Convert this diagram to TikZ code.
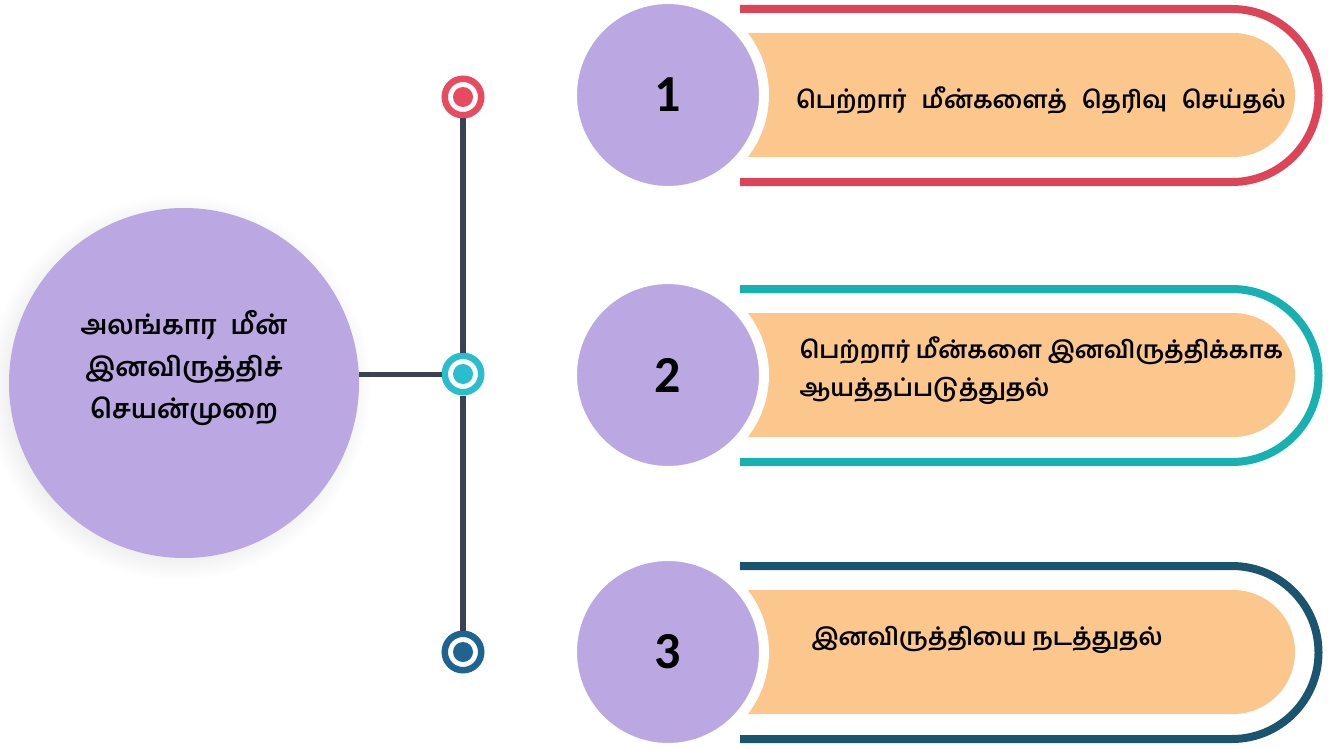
\documentclass[tikz,border=0pt]{standalone}
\usepackage{fontspec}
\setmainfont{Carlito}
\newfontfamily\tamil[Script=Tamil]{Hind Madurai}
\usetikzlibrary{shadows}
\definecolor{lilac}{RGB}{187,168,226}
\definecolor{peach}{RGB}{251,199,140}
\definecolor{rose}{RGB}{222,68,88}
\definecolor{lagoon}{RGB}{24,177,178}
\definecolor{marine}{RGB}{27,84,110}
\definecolor{dotred}{RGB}{232,74,95}
\definecolor{dotcyan}{RGB}{41,190,206}
\definecolor{dotblue}{RGB}{31,99,145}
\definecolor{stem}{RGB}{61,66,82}

\begin{document}
\begin{tikzpicture}[x=1pt,y=-1pt,
  stepnum/.style={circle,fill=lilac,draw=white,line width=10pt,minimum size=192pt,inner sep=0pt,
    font=\bfseries\fontsize{52}{52}\selectfont},
  marker/.style={circle,fill=white,draw=#1,line width=6.5pt,minimum size=36.5pt,inner sep=0pt,
    path picture={\fill[#1] (path picture bounding box.center) circle (10pt);}},
  steptext/.style={font=\tamil\bfseries\fontsize{24}{38}\selectfont,align=left},
  bar/.style={fill=peach},
  rim/.style={line width=8pt}]
\useasboundingbox (0,0) rectangle (1344,749);

% main circle and the stem
\node[circle,fill=lilac,minimum size=350pt,inner sep=0pt,
  circular drop shadow={shadow xshift=-5pt,shadow yshift=-4pt,opacity=.15}] (main) at (184,383) {};
\node[font=\tamil\bfseries\fontsize{26.5}{42}\selectfont,align=center] (title) at (184,368)
  {அலங்கார\hspace{14pt}மீன்\\இனவிருத்திச்\\செயன்முறை};
\node[marker=dotred] (d1) at (463,97) {};
\node[marker=dotcyan] (d2) at (463,374) {};
\node[marker=dotblue] (d3) at (463,652) {};
\draw[stem,line width=5.5pt] (d1) -- (d2);
\draw[stem,line width=5.5pt] (d2) -- (d3);
\draw[stem,line width=5pt] (main.east |- d2) -- (d2);

% step 1
\fill[bar] (740,33) -- (1233,33) arc[start angle=-90,end angle=90,radius=62] -- (740,157) -- cycle;
\draw[rim,rose] (740,9) -- (1232,9) arc[start angle=-90,end angle=90,radius=86.5] -- (740,182);
\node[stepnum] (s1) at (668,95) {1};
\node[steptext] (t1) at (1041,100) {\spaceskip=15pt பெற்றார் மீன்களைத் தெரிவு செய்தல்};

% step 2
\fill[bar] (740,313) -- (1233,313) arc[start angle=-90,end angle=90,radius=62] -- (740,437) -- cycle;
\draw[rim,lagoon] (740,289) -- (1232,289) arc[start angle=-90,end angle=90,radius=86.5] -- (740,462);
\node[stepnum] (s2) at (668,375) {2};
\node[steptext,anchor=west] (t2) at (796,371) {பெற்றார் மீன்களை இனவிருத்திக்காக\\ஆயத்தப்படுத்துதல்};

% step 3
\fill[bar] (740,590) -- (1233,590) arc[start angle=-90,end angle=90,radius=62] -- (740,714) -- cycle;
\draw[rim,marine] (740,566) -- (1232,566) arc[start angle=-90,end angle=90,radius=86.5] -- (740,739);
\node[stepnum] (s3) at (668,652) {3};
\node[steptext,anchor=west] (t3) at (808,640) {இனவிருத்தியை நடத்துதல்};
\end{tikzpicture}
\end{document}
